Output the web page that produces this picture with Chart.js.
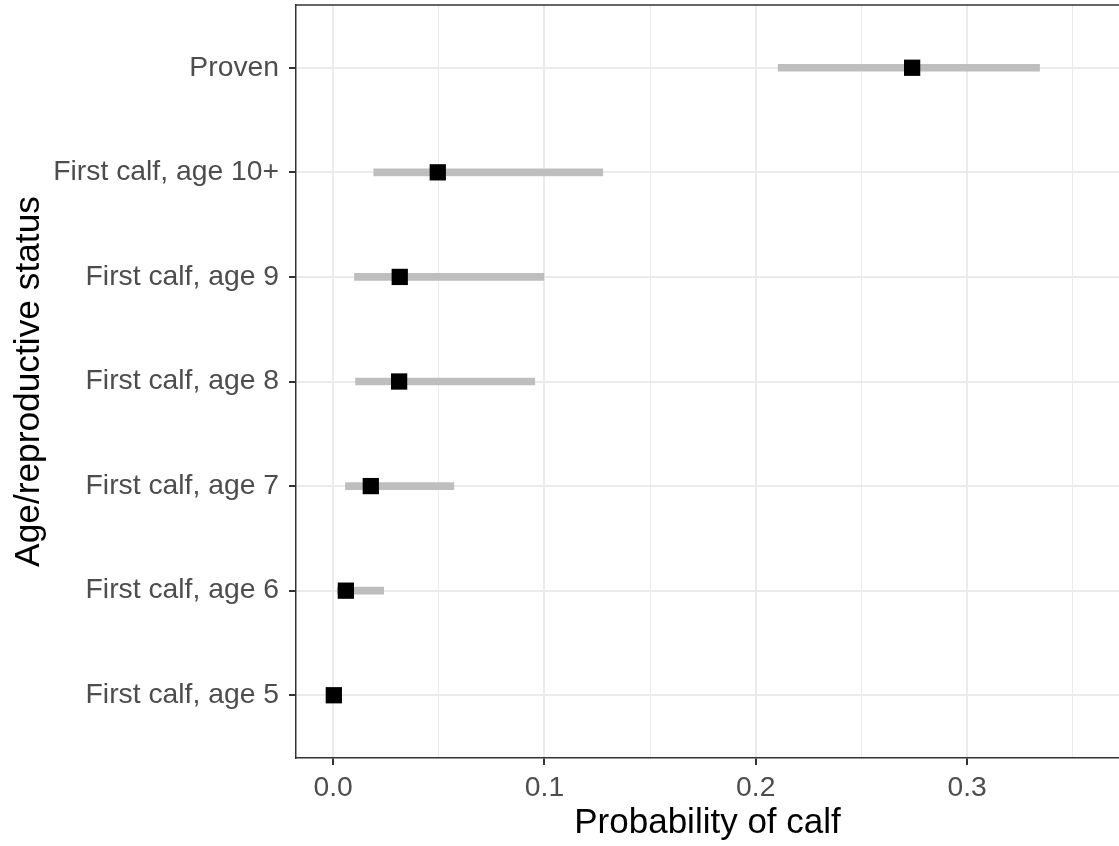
<!DOCTYPE html>
<html>
<head>
<meta charset="utf-8">
<title>Probability of calf</title>
<script src="https://cdn.jsdelivr.net/npm/chart.js@4/dist/chart.umd.min.js"></script>
<style>
	html, body { margin: 0; padding: 0; background: #fff; }
	#box { width: 1119px; height: 846px; position: relative; }
</style>
</head>
<body>
<div id="box"><canvas id="chart"></canvas></div>
<script>
/*
 * Rows from top to bottom, with the estimate and the interval ends for
 * each one.
 */
const categories = [
	'Proven',
	'First calf, age 10+',
	'First calf, age 9',
	'First calf, age 8',
	'First calf, age 7',
	'First calf, age 6',
	'First calf, age 5',
];
const estimate = [0.274, 0.0495, 0.0315, 0.0312, 0.0178, 0.006, 0.0003];
const lower = [0.2106, 0.0192, 0.0101, 0.0106, 0.0058, 0.0019, 0.0];
const upper = [0.3343, 0.1276, 0.0997, 0.0954, 0.0571, 0.0239, 0.0008];

const xTicks = [0, 0.05, 0.1, 0.15, 0.2, 0.25, 0.3, 0.35];

const fontFamily = '"Liberation Sans", Arial, sans-serif';

function isMajor(v)
{
	return Math.abs(v * 10 - Math.round(v * 10)) < 1e-6;
}

/*
 * ggplot's theme_bw draws a full panel border; the right side is cut off
 * by the picture, so only the top needs adding.
 */
const topBorder = {
	id: 'topBorder',
	afterDraw(chart) {
		const a = chart.chartArea;
		const ctx = chart.ctx;
		ctx.save();
		ctx.strokeStyle = '#333333';
		ctx.lineWidth = 1.5;
		ctx.beginPath();
		ctx.moveTo(a.left, a.top);
		ctx.lineTo(a.right, a.top);
		ctx.stroke();
		ctx.restore();
	}
};

window.addEventListener('load', () => {
	new Chart(document.getElementById('chart'), {
		type: 'bar',
		data: {
			datasets: [{
				label: 'interval',
				data: categories.map((c, i) => ({ x: [lower[i], upper[i]], y: i })),
				backgroundColor: '#bebebe',
				borderWidth: 0,
				barThickness: 7,
				order: 2,
			}, {
				type: 'scatter',
				label: 'estimate',
				data: categories.map((c, i) => ({ x: estimate[i], y: i })),
				pointStyle: 'rect',
				pointRadius: 11.5,
				pointHoverRadius: 11.5,
				backgroundColor: '#000',
				borderColor: '#000',
				borderWidth: 0,
				order: 1,
			}]
		},
		options: {
			indexAxis: 'y',
			responsive: true,
			maintainAspectRatio: false,
			animation: false,
			layout: {
				autoPadding: false,
				padding: { top: 5, left: 0, right: 0, bottom: 0 },
			},
			plugins: {
				legend: { display: false },
				tooltip: { enabled: false },
			},
			scales: {
				x: {
					type: 'linear',
					min: -0.0176,
					max: 0.3719,
					afterBuildTicks: (s) => {
						s.ticks = xTicks.map(v => ({ value: v }));
					},
					afterFit: (s) => {
						s.height = 88;
						s.paddingLeft = 0;
						s.paddingRight = 0;
					},
					ticks: {
						autoSkip: false,
						maxRotation: 0,
						padding: 6,
						color: '#4d4d4d',
						font: { family: fontFamily, size: 28.3 },
						callback: (v) => isMajor(v) ? v.toFixed(1) : '',
					},
					grid: {
						color: '#ebebeb',
						lineWidth: (c) => c.tick && isMajor(c.tick.value) ? 2 : 1,
						tickColor: (c) => c.tick && isMajor(c.tick.value) ? '#333333' : 'rgba(0,0,0,0)',
						tickLength: 7,
						tickWidth: 2,
					},
					border: { display: true, color: '#333333', width: 1.5 },
					title: {
						display: true,
						text: 'Probability of calf',
						color: '#000',
						font: { family: fontFamily, size: 35 },
						padding: { top: 0, bottom: 2 },
					},
				},
				y: {
					type: 'linear',
					reverse: true,
					offset: false,
					min: -0.6,
					max: 6.6,
					afterBuildTicks: (s) => {
						s.ticks = categories.map((c, i) => ({ value: i }));
					},
					afterFit: (s) => {
						s.width = 296;
						s.paddingTop = 0;
						s.paddingBottom = 0;
					},
					ticks: {
						autoSkip: false,
						padding: 10,
						color: '#4d4d4d',
						font: { family: fontFamily, size: 28.3 },
						callback: (v) => categories[v],
					},
					grid: {
						offset: false,
						color: '#ebebeb',
						lineWidth: 2,
						tickColor: '#333333',
						tickLength: 7,
						tickWidth: 2,
					},
					border: { display: true, color: '#333333', width: 1.5 },
					title: {
						display: true,
						text: 'Age/reproductive status',
						color: '#000',
						font: { family: fontFamily, size: 35.3 },
						padding: { top: 8, bottom: 0 },
					},
				},
			}
		},
		plugins: [topBorder],
	});
});
</script>
</body>
</html>
